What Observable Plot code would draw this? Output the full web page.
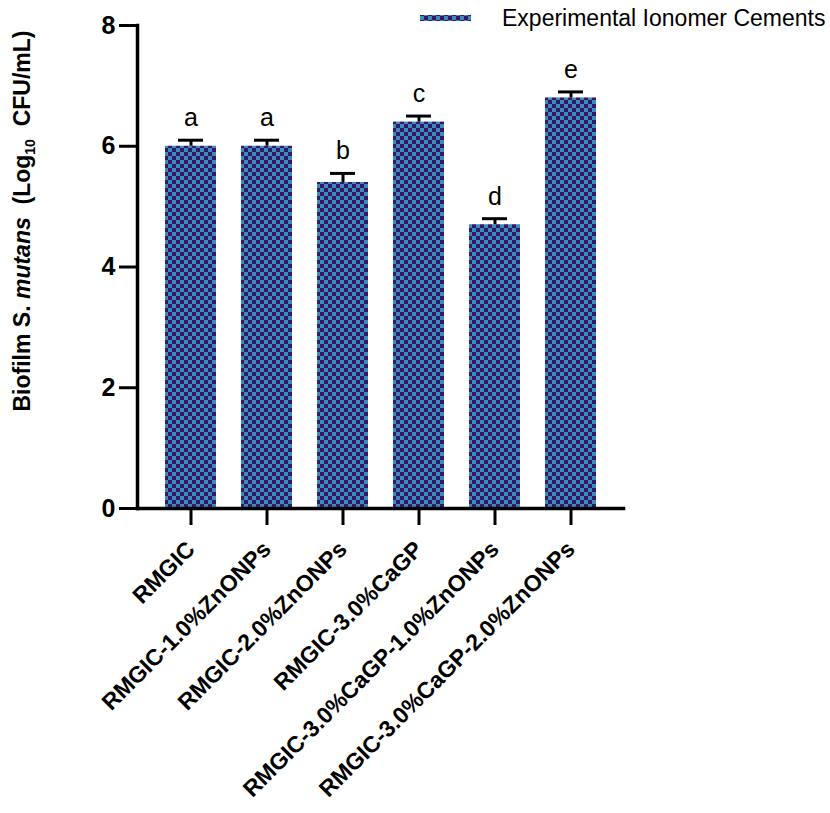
<!DOCTYPE html>
<html><head><meta charset="utf-8">
<script src="https://cdn.jsdelivr.net/npm/d3@7"></script>
<script src="https://cdn.jsdelivr.net/npm/@observablehq/plot@0.6"></script>
<style>body{margin:0;background:#fff;font-family:"Liberation Sans",Arial,sans-serif}</style>
</head><body><div id="chart"></div>
<script>
const groups = ["RMGIC","RMGIC-1.0%ZnONPs","RMGIC-2.0%ZnONPs","RMGIC-3.0%CaGP","RMGIC-3.0%CaGP-1.0%ZnONPs","RMGIC-3.0%CaGP-2.0%ZnONPs"];
const means = [6.0, 6.0, 5.4, 6.4, 4.7, 6.8];
const errors = [0.1, 0.1, 0.15, 0.1, 0.1, 0.1];
const letters = ["a","a","b","c","d","e"];
const yTicks = [0, 2, 4, 6, 8];
const seriesName = "Experimental Ionomer Cements";

const data = groups.map((g, i) => ({group: g, mean: means[i], top: means[i] + errors[i], letter: letters[i]}));

const defs = () => {
  const d = d3.create("svg:defs");
  const p = d.append("pattern").attr("id", "checker").attr("patternUnits", "userSpaceOnUse").attr("width", 8).attr("height", 8);
  p.append("rect").attr("width", 8).attr("height", 8).attr("fill", "#3a8cbf");
  p.append("rect").attr("width", 4).attr("height", 4).attr("fill", "#341866");
  p.append("rect").attr("x", 4).attr("y", 4).attr("width", 4).attr("height", 4).attr("fill", "#341866");
  return d.node();
};

const plot = Plot.plot({
  width: 830, height: 813,
  marginTop: 25, marginBottom: 305, marginLeft: 137, marginRight: 207,
  style: {fontFamily: "'Liberation Sans', Arial, sans-serif", color: "#000", background: "#fff"},
  x: {domain: groups, padding: 0.335},
  y: {domain: [0, 8]},
  marks: [
    defs,
    Plot.barY(data, {x: "group", y: "mean", fill: "url(#checker)"}),
    Plot.ruleX(data, {x: "group", y1: "mean", y2: "top", strokeWidth: 3, stroke: "#000"}),
    Plot.tickY(data, {x: "group", y: "top", strokeWidth: 3, stroke: "#000", insetLeft: 13, insetRight: 13}),
    Plot.text(data, {x: "group", y: "top", text: "letter", dy: -14, lineAnchor: "bottom", fontSize: 25, fill: "#000"}),
    Plot.axisY({ticks: yTicks, tickSize: 18, tickPadding: 4, fontSize: 25, fontWeight: "bold", label: null, strokeWidth: 3}),
    Plot.axisX({tickSize: 17, tickPadding: 20, tickRotate: -45, fontSize: 23, fontWeight: "bold", label: null, strokeWidth: 3}),
    Plot.frame({anchor: "left", strokeWidth: 3.5}),
    Plot.frame({anchor: "bottom", strokeWidth: 3.5})
  ]
});
document.getElementById("chart").appendChild(plot);

const svg = d3.select(plot);
// legend
svg.append("rect").attr("x", 420).attr("y", 15).attr("width", 51).attr("height", 6).attr("fill", "url(#checker)");
svg.append("text").attr("x", 502).attr("y", 26).attr("text-anchor", "start").attr("font-size", 23).attr("fill", "#000").text(seriesName);
// y label
const yl = svg.append("text")
  .attr("transform", "translate(30,221) rotate(-90)")
  .attr("text-anchor", "middle").attr("font-size", 23).attr("font-weight", "bold").attr("fill", "#000")
  .attr("xml:space", "preserve");
yl.append("tspan").text("Biofilm S. ");
yl.append("tspan").attr("font-style", "italic").text("mutans");
yl.append("tspan").text("  (Log");
yl.append("tspan").attr("font-size", 14).attr("dy", 5).text("10");
yl.append("tspan").attr("dy", -5).text("  CFU/mL)");
</script></body></html>
